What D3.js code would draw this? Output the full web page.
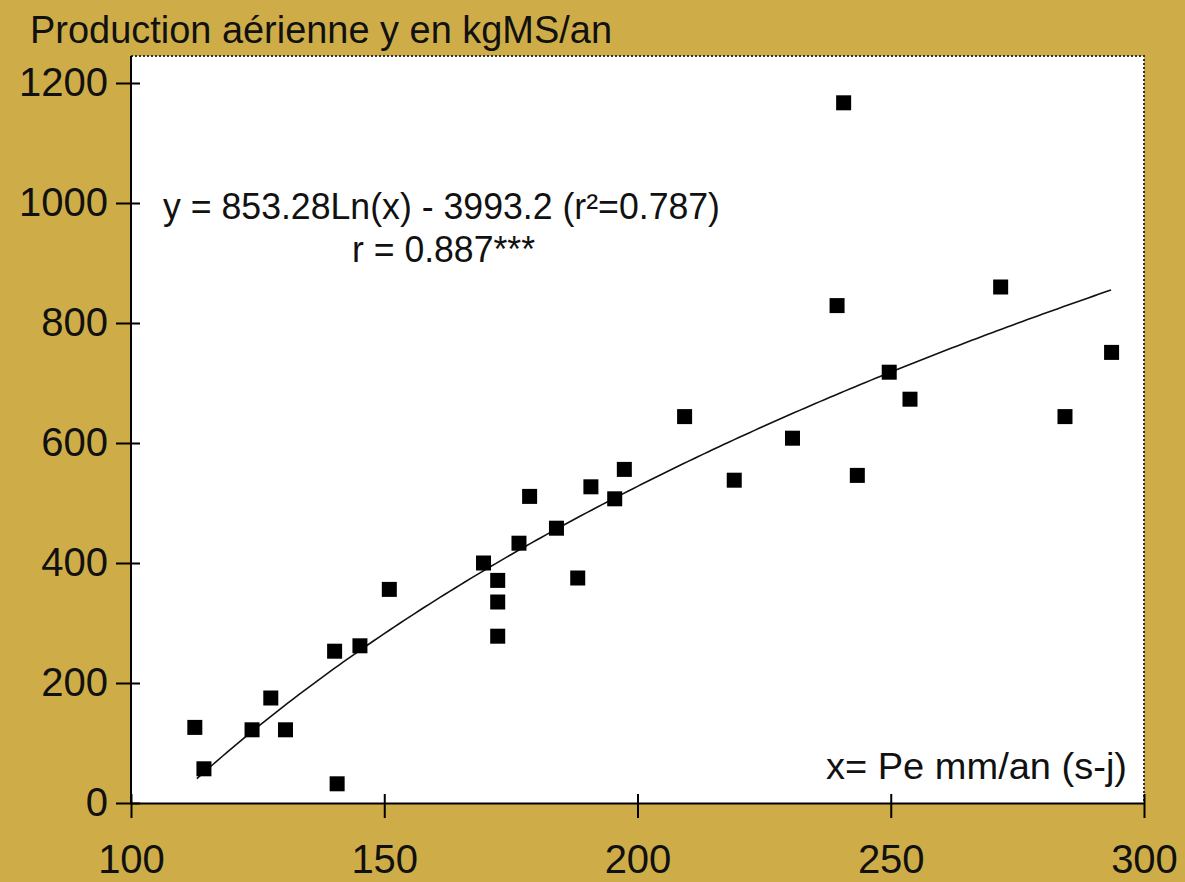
<!DOCTYPE html>
<html>
<head>
<meta charset="utf-8">
<script src="https://cdn.jsdelivr.net/npm/d3@7"></script>
<style>
  html, body { margin: 0; padding: 0; background: #cead48; }
  svg { display: block; }
  text { font-family: "Liberation Sans", Arial, sans-serif; fill: #111; }
</style>
</head>
<body>
<div id="vis"></div>
<script>
var width = 1185, height = 882;

// points: x = Pe (mm/an), y = production (kgMS/an)
var peValues = [112.6, 114.4, 123.9, 127.6, 130.5, 140.2, 140.7, 145.2, 151.0, 169.6,
  172.4, 172.4, 172.4, 176.6, 178.7, 184.0, 188.2, 190.8, 195.5, 197.4,
  209.3, 219.1, 230.6, 239.4, 240.7, 243.4, 249.7, 253.8, 271.7, 284.4, 293.6];
var prodValues = [126, 57, 122, 175, 122, 253, 32, 262, 356, 400,
  371, 335, 278, 433, 511, 458, 375, 527, 507, 556,
  644, 538, 608, 829, 1167, 546, 718, 673, 860, 644, 751];

// log trend printed on the chart, drawn over the span of the data
var trendA = 853.28, trendB = -3993.2;
var trendRange = [113, 293.5];

var xTicks = [100, 150, 200, 250, 300];
var yTicks = [0, 200, 400, 600, 800, 1000, 1200];

var titleText = 'Production aérienne y en kgMS/an';
var eqText = 'y = 853.28Ln(x) - 3993.2 (r²=0.787)';
var rText = 'r = 0.887***';
var xLabelText = 'x= Pe mm/an (s-j)';

var plotLeft = 131, plotRight = 1144, plotTop = 56, plotBottom = 803;

var x = d3.scaleLinear().domain([100, 300]).range([plotLeft, plotRight]);
var y = d3.scaleLinear().domain([0, 1200]).range([plotBottom, 83]);

var svg = d3.select('#vis').append('svg')
  .attr('width', width)
  .attr('height', height);

// white plot area
svg.append('rect')
  .attr('x', plotLeft).attr('y', plotTop)
  .attr('width', plotRight - plotLeft).attr('height', plotBottom - plotTop)
  .attr('fill', '#fff');

// dotted top and right edges
svg.append('path')
  .attr('d', 'M' + plotLeft + ',' + plotTop + 'H' + plotRight + 'V' + plotBottom)
  .attr('fill', 'none')
  .attr('stroke', '#333')
  .attr('stroke-width', 2)
  .attr('stroke-dasharray', '2,2');

// title
svg.append('text')
  .attr('x', 30).attr('y', 43)
  .attr('font-size', 38)
  .attr('textLength', 582).attr('lengthAdjust', 'spacingAndGlyphs')
  .text(titleText);

// axes, ticks cross the axis line
var yAxis = d3.axisLeft(y).tickValues(yTicks).tickFormat(d3.format('d'))
  .tickSize(15).tickSizeOuter(0).tickPadding(8);
var gy = svg.append('g').attr('transform', 'translate(' + plotLeft + ',0)').call(yAxis);
gy.select('.domain').remove();
gy.append('line').attr('x1', 0).attr('x2', 0).attr('y1', plotBottom).attr('y2', plotTop)
  .attr('stroke', '#000').attr('stroke-width', 2);
gy.selectAll('.tick line').attr('x1', 9).attr('stroke', '#000').attr('stroke-width', 2);
gy.selectAll('.tick text').attr('font-size', 40).attr('fill', '#111')
  .attr('font-family', '"Liberation Sans", Arial, sans-serif');

var xAxis = d3.axisBottom(x).tickValues(xTicks).tickFormat(d3.format('d'))
  .tickSize(15).tickSizeOuter(0).tickPadding(27);
var gx = svg.append('g').attr('transform', 'translate(0,' + plotBottom + ')').call(xAxis);
gx.select('.domain').attr('stroke', '#000').attr('stroke-width', 2);
gx.selectAll('.tick line').attr('y1', -9).attr('stroke', '#000').attr('stroke-width', 2);
gx.selectAll('.tick text').attr('font-size', 40).attr('fill', '#111')
  .attr('font-family', '"Liberation Sans", Arial, sans-serif');

// trend curve
var trendX = d3.range(trendRange[0], trendRange[1], 1).concat([trendRange[1]]);
var line = d3.line()
  .x(function(d) { return x(d); })
  .y(function(d) { return y(trendA * Math.log(d) + trendB); });
svg.append('path')
  .datum(trendX)
  .attr('d', line)
  .attr('fill', 'none')
  .attr('stroke', '#111')
  .attr('stroke-width', 1.6);

// points
var pts = peValues.map(function(v, i) { return {pe: v, prod: prodValues[i]}; });
var sq = 15;
svg.selectAll('.pt')
  .data(pts)
  .enter()
  .append('rect')
  .attr('class', 'pt')
  .attr('x', function(d) { return x(d.pe) - sq / 2; })
  .attr('y', function(d) { return y(d.prod) - sq / 2; })
  .attr('width', sq).attr('height', sq)
  .attr('fill', '#000');

// annotations
svg.append('text')
  .attr('x', 163).attr('y', 219)
  .attr('font-size', 36)
  .attr('textLength', 557).attr('lengthAdjust', 'spacingAndGlyphs')
  .text(eqText);
svg.append('text')
  .attr('x', 352).attr('y', 262)
  .attr('font-size', 36)
  .attr('textLength', 183).attr('lengthAdjust', 'spacingAndGlyphs')
  .text(rText);
svg.append('text')
  .attr('x', 826).attr('y', 779)
  .attr('font-size', 36)
  .attr('textLength', 301).attr('lengthAdjust', 'spacingAndGlyphs')
  .text(xLabelText);
</script>
</body>
</html>
